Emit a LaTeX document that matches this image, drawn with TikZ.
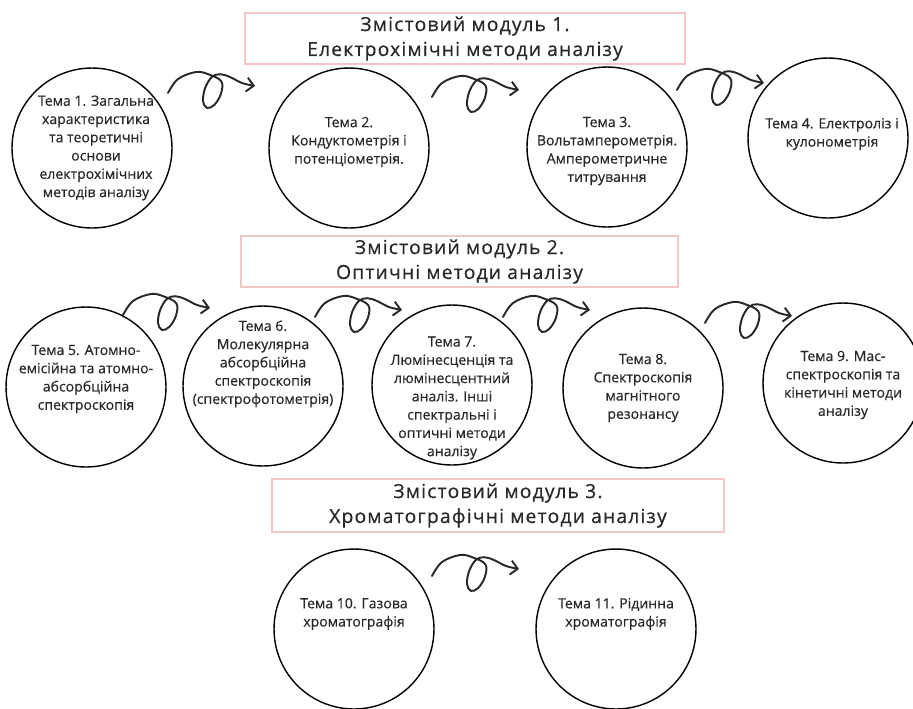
\documentclass[tikz,border=0pt]{standalone}
\usepackage{fontspec}
\setmainfont{Open Sans}
\usetikzlibrary{arrows.meta}
\definecolor{pinkline}{RGB}{242,198,196}
\definecolor{inkgray}{RGB}{40,40,40}

\begin{document}
\begin{tikzpicture}[x=0.02cm,y=-0.02cm,
  topic/.style={draw,circle,line width=0.8pt,minimum size=3.2cm,inner sep=0pt},
  topictext/.style={align=center,inner sep=0pt,text=inkgray,
    font=\fontsize{8}{10.4}\selectfont\addfontfeature{FakeBold=0.5}},
  modul/.style={draw=pinkline,line width=0.9pt,fill=white,align=center,inner sep=0pt,text=inkgray,
    font=\fontsize{11}{14.2}\selectfont\addfontfeature{LetterSpace=6,FakeBold=0.5}},
  loopy/.pic={\draw[line width=1.1pt,inkgray,line cap=round,-{Straight Barb[length=4pt,width=8pt]}]
    plot[smooth,tension=0.6] coordinates {(0,0) (10,-14) (28,-21) (41,-18.5) (53.4,-11.6) (52.9,0.9)
      (46.2,12) (38.9,14.9) (35,8) (37.1,-4.9) (43.8,-16) (52.2,-18.8) (62,-16) (74,-10) (87,-7)};}]
\useasboundingbox (0,0) rectangle (913,708);

\node[topic] (c1) at (92,148) {};
\node[topic] (c2) at (349,148) {};
\node[topic] (c3) at (607,147) {};
\node[topic] (c4) at (828,138) {};
\node[topic] (c5) at (86,387) {};
\node[topic] (c6) at (263,386) {};
\node[topic] (c7) at (452,385) {};
\node[topic] (c8) at (643,388) {};
\node[topic] (c9) at (843,383) {};
\node[topic] (c10) at (354,629) {};
\node[topic] (c11) at (616,629) {};

\node[topictext] (t1) at ([shift={(4,0)}]c1.center) {Тема 1. Загальна\\характеристика\\та теоретичні\\основи\\електрохімічних\\методів аналізу};
\node[topictext] (t2) at ([shift={(0,-6)}]c2.center) {Тема 2.\\Кондуктометрія і\\потенціометрія.};
\node[topictext] (t3) at ([shift={(0,4)}]c3.center) {Тема 3.\\Вольтамперометрія.\\Амперометричне\\титрування};
\node[topictext] (t4) at ([shift={(4,-4)}]c4.center) {Тема 4. Електроліз і\\кулонометрія};
\node[topictext] (t5) at ([shift={(0,-8)}]c5.center) {Тема 5. Атомно-\\емісійна та атомно-\\абсорбційна\\спектроскопія};
\node[topictext] (t6) at ([shift={(0,-22)}]c6.center) {Тема 6.\\Молекулярна\\абсорбційна\\спектроскопія\\(спектрофотометрія)};
\node[topictext] (t7) at ([shift={(0,13)}]c7.center) {Тема 7.\\Люмінесценція та\\люмінесцентний\\аналіз. Інші\\спектральні і\\оптичні методи\\аналізу};
\node[topictext] (t8) at (c8.center) {Тема 8.\\Спектроскопія\\магнітного\\резонансу};
\node[topictext] (t9) at ([shift={(0,2)}]c9.center) {Тема 9. Мас-\\спектроскопія та\\кінетичні методи\\аналізу};
\node[topictext] (t10) at ([shift={(0,-15)}]c10.center) {Тема 10. Газова\\хроматографія};
\node[topictext] (t11) at ([shift={(0,-15)}]c11.center) {Тема 11. Рідинна\\хроматографія};

\node[modul,minimum width=8.8cm,minimum height=1.02cm] (m1) at (465,38.5) {Змістовий модуль 1.\\Електрохімічні методи аналізу};
\node[modul,minimum width=8.74cm,minimum height=1.02cm] (m2) at (459.5,261.5) {Змістовий модуль 2.\\Оптичні методи аналізу};
\node[modul,minimum width=9.04cm,minimum height=1.06cm] (m3) at (498,505.5) {Змістовий модуль 3.\\Хроматографічні методи аналізу};

\pic at ([shift={(76,-55)}]c1.center) {loopy};
\pic at ([shift={(83,-51)}]c2.center) {loopy};
\pic at ([shift={(70,-57)}]c3.center) {loopy};
\pic at ([shift={(37,-72)}]c5.center) {loopy};
\pic at ([shift={(52,-69)}]c6.center) {loopy};
\pic at ([shift={(51,-68)}]c7.center) {loopy};
\pic at ([shift={(62,-65)}]c8.center) {loopy};
\pic at ([shift={(78,-53)}]c10.center) {loopy};
\end{tikzpicture}
\end{document}
